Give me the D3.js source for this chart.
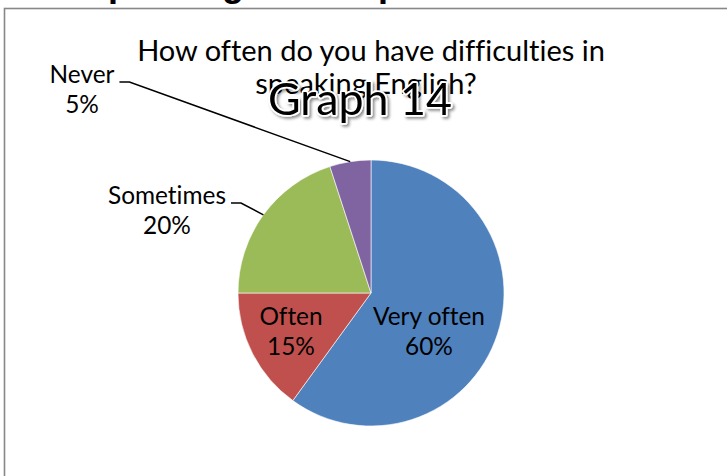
<!DOCTYPE html>
<html><head><meta charset="utf-8">
<script src="https://cdn.jsdelivr.net/npm/d3@7"></script>
<style>body{margin:0;background:#fff}svg{display:block}text{font-variant-ligatures:none;font-feature-settings:"liga" 0,"dlig" 0}</style>
</head><body>
<svg id="c" width="727" height="476"></svg>
<script>
const categories = ["Very often", "Often", "Sometimes", "Never"];
const values = [60, 15, 20, 5];
const percentLabels = ["60%", "15%", "20%", "5%"];
const colors = ["#4F81BD", "#C0504D", "#9BBB59", "#8064A2"];
const titleLines = ["How often do you have difficulties in", "speaking English?"];
const overlayText = "Graph 14";
const headingWords = ["Speaking", "problems"];

const svg = d3.select("#c");
const FONT = "Lato, 'Open Sans', sans-serif";

const defs = svg.append("defs");
const f = defs.append("filter").attr("id","sh").attr("x","-20%").attr("y","-30%").attr("width","140%").attr("height","170%");
f.append("feDropShadow").attr("dx",2).attr("dy",2).attr("stdDeviation",1.6).attr("flood-color","#000").attr("flood-opacity",0.45);

// partially cut heading above frame
svg.append("text").attr("x",84).attr("y",-4).attr("font-family","'Liberation Sans', Arial, sans-serif")
  .attr("font-weight","bold").attr("font-size",36).attr("fill","#000").text(headingWords[0]);
svg.append("text").attr("x",378).attr("y",-4).attr("font-family","'Liberation Sans', Arial, sans-serif")
  .attr("font-weight","bold").attr("font-size",36).attr("fill","#000").text(headingWords[1]);

// frame
svg.append("rect").attr("x",4.5).attr("y",8.5).attr("width",900).attr("height",700)
  .attr("fill","#fff").attr("stroke","#878787").attr("stroke-width",1.6);

function fit(sel, target){
  sel.attr("font-size", 24);
  const w = sel.node().getComputedTextLength();
  const fs = 24 * target / w;
  sel.attr("font-size", fs);
  return fs;
}

// title
const cx = 371, cy = 293, R = 133;
const t1 = svg.append("text").attr("x",cx).attr("y",61).attr("text-anchor","middle")
  .attr("font-family",FONT).attr("fill","#000").text(titleLines[0]);
const tfs = fit(t1, 468);
svg.append("text").attr("x",366).attr("y",94).attr("text-anchor","middle")
  .attr("font-family",FONT).attr("font-size",tfs).attr("fill","#000").text(titleLines[1]);

// pie
const pie = d3.pie().sort(null).value(d => d)(values);
const arc = d3.arc().innerRadius(0).outerRadius(R);
const g = svg.append("g").attr("transform",`translate(${cx},${cy})`);
g.selectAll("path").data(pie).join("path")
  .attr("d",arc).attr("fill",(d,i)=>colors[i])
  .attr("stroke","#fff").attr("stroke-width",0.6);

// labels
const lblFS = (() => {
  const tmp = svg.append("text").attr("font-family",FONT).text(categories[0]);
  const fs = fit(tmp, 112); tmp.remove(); return fs;
})();
const labelPos = [
  {x: 429, y: 325},  // Very often (inside)
  {x: 291, y: 325},  // Often (inside)
  {x: 167, y: 204},  // Sometimes (outside)
  {x: 82,  y: 83}    // Never (outside)
];
const lineGap = 30;
categories.forEach((c,i) => {
  const p = labelPos[i];
  const t = svg.append("text").attr("text-anchor","middle").attr("font-family",FONT)
    .attr("font-size",lblFS).attr("fill","#000");
  t.append("tspan").attr("x",p.x).attr("y",p.y).text(c);
  t.append("tspan").attr("x",p.x).attr("y",p.y+lineGap).text(percentLabels[i]);
});

// leader lines for outside labels
[2,3].forEach(i => {
  const d = pie[i];
  const a = (d.startAngle + d.endAngle)/2;
  const ex = cx + R*Math.sin(a), ey = cy - R*Math.cos(a);
  const tmp = svg.append("text").attr("font-family",FONT).attr("font-size",lblFS).text(categories[i]);
  const w = tmp.node().getComputedTextLength(); tmp.remove();
  const x0 = labelPos[i].x + w/2 + 5, y0 = labelPos[i].y - 1;
  svg.append("path").attr("d",`M${x0},${y0}H${x0+10}L${ex},${ey}`)
    .attr("fill","none").attr("stroke","#000").attr("stroke-width",1.5);
});

// overlay "Graph 14"
const gt = svg.append("text").attr("x",360).attr("y",115).attr("text-anchor","middle")
  .attr("font-family",FONT).attr("fill","#000").attr("stroke","#fff").attr("stroke-width",3.5)
  .attr("paint-order","stroke").attr("stroke-linejoin","round").attr("filter","url(#sh)").text(overlayText);
fit(gt, 184);
</script>
</body></html>
